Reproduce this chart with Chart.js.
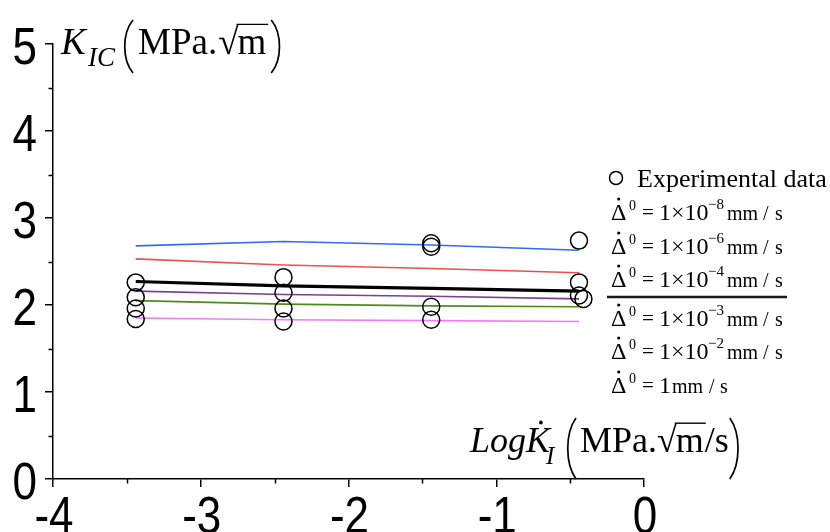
<!DOCTYPE html>
<html>
<head>
<meta charset="utf-8">
<script src="https://cdn.jsdelivr.net/npm/chart.js@4.4.1/dist/chart.umd.min.js"></script>
<style>
  html, body { margin: 0; padding: 0; background: #ffffff; }
  #wrap { width: 830px; height: 532px; position: relative; }
</style>
</head>
<body>
<div id="wrap"><canvas id="c" width="830" height="532"></canvas></div>
<script>
// ---- data ----
const xTickLabels = ['-4', '-3', '-2', '-1', '0'];
const yTickLabels = ['0', '1', '2', '3', '4', '5'];

// experimental data (circles)
const expX = [-3.44, -3.44, -3.44, -3.44, -2.44, -2.44, -2.44, -2.44, -1.44, -1.44, -1.44, -1.44, -0.44, -0.44, -0.44, -0.41];
const expY = [2.26, 2.09, 1.96, 1.84, 2.32, 2.14, 1.96, 1.81, 2.71, 2.67, 1.98, 1.83, 2.74, 2.26, 2.11, 2.07];

// model curves
const lineX = [-3.44, -2.44, -1.44, -0.44];
const rate1e8 = [2.68, 2.73, 2.69, 2.63];   // blue
const rate1e6 = [2.53, 2.46, 2.42, 2.37];   // red
const rate1e4 = [2.27, 2.22, 2.19, 2.16];   // black
const rate1e3 = [2.16, 2.12, 2.10, 2.07];   // purple
const rate1e2 = [2.05, 2.01, 1.99, 1.98];   // green
const rate1   = [1.85, 1.83, 1.82, 1.81];   // magenta

const legendExponents = ['\u22128', '\u22126', '\u22124', '\u22123', '\u22122', null];

// ---- build datasets ----
function pts(xs, ys) { return xs.map((x, i) => ({ x: x, y: ys[i] })); }

const lineDefs = [
  { data: rate1e8, color: '#2f6cf6', w: 1.6 },
  { data: rate1e6, color: '#ef4f4f', w: 1.6 },
  { data: rate1e4, color: '#000000', w: 3.2 },
  { data: rate1e3, color: '#7d3f93', w: 1.6 },
  { data: rate1e2, color: '#4f8a1c', w: 1.6 },
  { data: rate1,   color: '#f07ef0', w: 1.6 }
];

const datasets = [{
  type: 'scatter',
  label: 'Experimental data',
  data: pts(expX, expY),
  showLine: false,
  pointRadius: 8.5,
  pointHoverRadius: 8.5,
  pointBorderWidth: 1.5,
  pointBorderColor: '#000000',
  pointBackgroundColor: 'rgba(0,0,0,0)'
}];
lineDefs.forEach((d, i) => {
  datasets.push({
    type: 'line',
    label: 'rate' + i,
    data: pts(lineX, d.data),
    borderColor: d.color,
    borderWidth: d.w,
    pointRadius: 0,
    tension: 0,
    fill: false
  });
});

const SERIF = '"Liberation Serif", "Times New Roman", serif';
const SANS = '"Liberation Sans", Arial, sans-serif';

// minor ticks, tall tick labels, math titles, legend
const decorPlugin = {
  id: 'decor',
  afterDraw(chart) {
    const ctx = chart.ctx;
    const xs = chart.scales.x, ys = chart.scales.y;
    const ca = chart.chartArea;
    ctx.save();
    ctx.strokeStyle = '#000';
    ctx.lineWidth = 1.5;
    // minor ticks
    for (let v = -3.5; v < 0; v += 1) {
      const px = Math.round(xs.getPixelForValue(v)) + 0.5;
      ctx.beginPath(); ctx.moveTo(px, ca.bottom); ctx.lineTo(px, ca.bottom + 4.5); ctx.stroke();
    }
    for (let v = 0.5; v < 5; v += 1) {
      const py = Math.round(ys.getPixelForValue(v)) + 0.5;
      ctx.beginPath(); ctx.moveTo(ca.left, py); ctx.lineTo(ca.left - 4.5, py); ctx.stroke();
    }

    ctx.fillStyle = '#000';
    ctx.textBaseline = 'alphabetic';

    // tick labels (tall Arial-like digits)
    const fsT = 44, stretch = 1.18, cap = 0.716 * fsT;
    ctx.font = fsT + 'px ' + SANS;
    ctx.textAlign = 'right';
    yTickLabels.forEach((t, i) => {
      const py = ys.getPixelForValue(i);
      ctx.save(); ctx.translate(37, py + 1); ctx.scale(1, stretch);
      ctx.fillText(t, 0, cap / 2); ctx.restore();
    });
    ctx.textAlign = 'center';
    xTickLabels.forEach((t, i) => {
      const px = xs.getPixelForValue(i - 4);
      ctx.save(); ctx.translate(px + 1, 496); ctx.scale(1, stretch);
      ctx.fillText(t, 0, cap); ctx.restore();
    });
    ctx.textAlign = 'left';

    function paren(x, top, bot, dir) {
      ctx.save();
      ctx.lineWidth = 1.7;
      ctx.beginPath();
      const w = 9 * dir;
      ctx.moveTo(x + w, top);
      ctx.bezierCurveTo(x - 2 * dir, top + (bot - top) * 0.25, x - 2 * dir, top + (bot - top) * 0.75, x + w, bot);
      ctx.stroke();
      ctx.restore();
    }
    function sqrtM(x, base, fs, tail) {
      ctx.font = fs + 'px ' + SERIF;
      ctx.fillText('\u221A', x, base);
      const sw = ctx.measureText('\u221A').width;
      const mx = x + sw - 1;
      ctx.fillText('m', mx, base);
      const mw = ctx.measureText('m').width;
      ctx.save();
      ctx.lineWidth = 1.4;
      const oy = base - fs * 0.80;
      ctx.beginPath(); ctx.moveTo(x + sw - 2, oy); ctx.lineTo(mx + mw + 2, oy); ctx.stroke();
      ctx.restore();
      let end = mx + mw;
      if (tail) { ctx.fillText(tail, end + 1, base); end += 1 + ctx.measureText(tail).width; }
      return end;
    }

    // ---- Y title: K_IC (MPa.√m)
    {
      const base = 54, fs = 37;
      ctx.font = 'italic ' + fs + 'px ' + SERIF;
      ctx.fillText('K', 61, base);
      ctx.font = 'italic 27px ' + SERIF;
      ctx.fillText('IC', 88, base + 12);
      paren(124, 20, 73, 1);
      ctx.font = fs + 'px ' + SERIF;
      ctx.fillText('MPa.', 138, base);
      const mpaW = ctx.measureText('MPa.').width;
      const end = sqrtM(138 + mpaW + 1, base, fs, '');
      paren(end + 14, 20, 73, -1);
    }
    // ---- X title: LogK̇_I (MPa.√m/s)
    {
      const base = 452, fs = 36;
      ctx.font = 'italic ' + fs + 'px ' + SERIF;
      ctx.fillText('Log', 470, base);
      const lw = ctx.measureText('Log').width;
      const kx = 470 + lw;
      ctx.fillText('K', kx, base);
      const kw = ctx.measureText('K').width;
      ctx.beginPath(); ctx.arc(kx + kw * 0.62, base - fs * 0.82, 1.9, 0, Math.PI * 2); ctx.fill();
      ctx.font = 'italic 25px ' + SERIF;
      ctx.fillText('I', kx + kw - 4, base + 12);
      paren(567, 418, 479, 1);
      ctx.font = fs + 'px ' + SERIF;
      ctx.fillText('MPa.', 580, base);
      const mpaW = ctx.measureText('MPa.').width;
      const end = sqrtM(580 + mpaW, base, fs, '/s');
      paren(end + 10, 418, 479, -1);
    }

    // ---- legend
    {
      const lx = 611;
      ctx.save();
      ctx.lineWidth = 1.5;
      ctx.beginPath(); ctx.arc(616, 178, 6.5, 0, Math.PI * 2); ctx.stroke();
      ctx.restore();
      ctx.font = '26px ' + SERIF;
      ctx.fillText('Experimental data', 637, 187);

      const bases = [220, 254, 287, 326, 359, 393];
      legendExponents.forEach((ex, i) => {
        const b = bases[i];
        ctx.font = '24px ' + SERIF;
        ctx.fillText('\u0394', lx, b);
        const dw = ctx.measureText('\u0394').width;
        ctx.beginPath(); ctx.arc(lx + dw / 2, b - 21, 1.6, 0, Math.PI * 2); ctx.fill();
        ctx.font = '14px ' + SERIF;
        ctx.fillText('0', lx + 18, b - 10);
        ctx.font = '21px ' + SERIF;
        ctx.fillText('=', lx + 31, b - 1);
        ctx.font = '24px ' + SERIF;
        if (ex) {
          ctx.fillText('1\u00D710', lx + 48, b);
          ctx.font = '15px ' + SERIF;
          ctx.fillText(ex, lx + 97, b - 11);
          ctx.font = '20px ' + SERIF;
          ctx.fillText('mm', lx + 116, b);
          ctx.fillText('/', lx + 152, b);
          ctx.fillText('s', lx + 164, b);
        } else {
          ctx.fillText('1', lx + 48, b);
          ctx.font = '20px ' + SERIF;
          ctx.fillText('mm', lx + 61, b);
          ctx.fillText('/', lx + 98, b);
          ctx.fillText('s', lx + 109, b);
        }
      });
      ctx.save();
      ctx.lineWidth = 2.4;
      ctx.strokeStyle = '#1a1a1a';
      ctx.beginPath(); ctx.moveTo(607, 297); ctx.lineTo(787, 297); ctx.stroke();
      ctx.restore();
    }
    ctx.restore();
  }
};

new Chart(document.getElementById('c'), {
  type: 'line',
  data: { datasets: datasets },
  options: {
    responsive: false,
    animation: false,
    devicePixelRatio: 1,
    layout: { padding: { left: 0, top: 44, right: 186, bottom: 0 } },
    plugins: { legend: { display: false }, tooltip: { enabled: false }, title: { display: false } },
    scales: {
      x: {
        type: 'linear',
        min: -4, max: 0,
        afterFit(s) { s.height = 53; },
        ticks: { display: false, stepSize: 1 },
        grid: { display: true, drawOnChartArea: false, drawTicks: true, tickLength: 8, color: '#000', lineWidth: 1.5 },
        border: { display: true, color: '#000', width: 1.5 }
      },
      y: {
        type: 'linear',
        min: 0, max: 5,
        afterFit(s) { s.width = 53; },
        ticks: { display: false, stepSize: 1 },
        grid: { display: true, drawOnChartArea: false, drawTicks: true, tickLength: 8, color: '#000', lineWidth: 1.5 },
        border: { display: true, color: '#000', width: 1.5 }
      }
    }
  },
  plugins: [decorPlugin]
});
</script>
</body>
</html>
